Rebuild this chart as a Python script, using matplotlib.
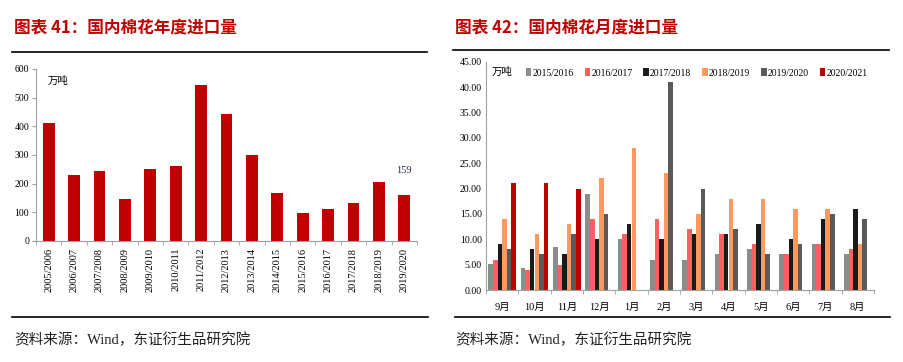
import numpy as np
import matplotlib.pyplot as plt
from matplotlib.lines import Line2D

plt.rcParams['font.family'] = ['Liberation Serif', 'Noto Sans CJK SC']

# ---- data: annual imports (left) ----
seasons = ['2005/2006', '2006/2007', '2007/2008', '2008/2009', '2009/2010',
           '2010/2011', '2011/2012', '2012/2013', '2013/2014', '2014/2015',
           '2015/2016', '2016/2017', '2017/2018', '2018/2019', '2019/2020']
annual_imports = [411, 229, 245, 146, 251, 260, 544, 442, 301, 168, 97, 111, 134, 205, 159]

# ---- data: monthly imports (right) ----
months = ['9月', '10月', '11月', '12月', '1月', '2月', '3月', '4月', '5月', '6月', '7月', '8月']
series_names = ['2015/2016', '2016/2017', '2017/2018', '2018/2019', '2019/2020', '2020/2021']
m_1516 = [5.2, 4.3, 8.5, 19, 10, 6, 6, 7, 8, 7, 9, 7]
m_1617 = [6, 4, 5, 14, 11, 14, 12, 11, 9, 7, 9, 8]
m_1718 = [9, 8, 7, 10, 13, 10, 11, 11, 13, 10, 14, 16]
m_1819 = [14, 11, 13, 22, 28, 23, 15, 18, 18, 16, 16, 9]
m_1920 = [8, 7, 11, 15, np.nan, 41, 20, 12, 7, 9, 15, 14]
m_2021 = [21, 21, 20, np.nan, np.nan, np.nan, np.nan, np.nan, np.nan, np.nan, np.nan, np.nan]
monthly = [m_1516, m_1617, m_1718, m_1819, m_1920, m_2021]
colors = ['#8c8c8c', '#ff5f5f', '#1a1a1a', '#ff9a5c', '#5a5a5a', '#c00000']

W, H = 904, 362
fig = plt.figure(figsize=(W / 100, H / 100), dpi=100)


def box(x0, y0, x1, y1):
    return [x0 / W, 1 - y1 / H, (x1 - x0) / W, (y1 - y0) / H]


def hline(x0, x1, y):
    fig.add_artist(Line2D([x0 / W, x1 / W], [1 - y / H, 1 - y / H],
                          color='black', lw=1.2, transform=fig.transFigure))


red = '#c00000'
spine_col = '#a0a0a0'
mixed = ['Liberation Serif', 'Noto Sans CJK SC']

# titles, rules, sources
fig.text(14 / W, 1 - 28 / H, '图表 41：国内棉花年度进口量', color=red, fontsize=12,
         fontweight='bold', family=['Noto Sans CJK SC'], va='center')
fig.text(455 / W, 1 - 28 / H, '图表 42：国内棉花月度进口量', color=red, fontsize=12,
         fontweight='bold', family=['Noto Sans CJK SC'], va='center')
hline(12, 427, 51.5)
hline(453, 889, 49.5)
hline(12, 428, 317)
hline(455, 890, 317)
fig.text(14 / W, 1 - 340 / H, '资料来源：Wind，东证衍生品研究院', fontsize=10.5,
         family=mixed, va='center', color='#222222')
fig.text(455 / W, 1 - 340 / H, '资料来源：Wind，东证衍生品研究院', fontsize=10.5,
         family=mixed, va='center', color='#222222')

# ---- left chart ----
ax1 = fig.add_axes(box(36, 69, 417, 241))
x = np.arange(len(seasons))
ax1.bar(x, annual_imports, width=0.46, color=red)
ax1.set_xlim(-0.5, len(seasons) - 0.5)
ax1.set_ylim(0, 600)
ax1.set_yticks(range(0, 601, 100))
ax1.set_xticks(x)
ax1.set_xticklabels(seasons, rotation=90, fontsize=7.5)
ax1.set_xticks(np.arange(-0.5, len(seasons)), minor=True)
ax1.tick_params(axis='x', which='major', length=0, pad=5)
ax1.tick_params(axis='x', which='minor', length=3, color=spine_col)
ax1.tick_params(axis='y', labelsize=7, length=3, color=spine_col, pad=2)
for s in ['top', 'right']:
    ax1.spines[s].set_visible(False)
for s in ['left', 'bottom']:
    ax1.spines[s].set_color(spine_col)
ax1.text(0.03, 0.93, '万吨', transform=ax1.transAxes, fontsize=7.5,
         family=['Noto Sans CJK SC'], va='center')
ax1.annotate(str(annual_imports[-1]), (x[-1], annual_imports[-1]),
             xytext=(0, 16), textcoords='offset points', ha='center', fontsize=7.5,
             color='#1f2a5a')

# ---- right chart ----
ax2 = fig.add_axes(box(486, 61.7, 874, 290))
xm = np.arange(len(months))
bw = 0.141
for i, (vals, name, c) in enumerate(zip(monthly, series_names, colors)):
    ax2.bar(xm + (i - 2.5) * bw, vals, width=bw, color=c, label=name)
ax2.set_xlim(-0.5, len(months) - 0.5)
ax2.set_ylim(0, 45)
ax2.set_yticks(np.arange(0, 45.1, 5))
ax2.set_yticklabels([f'{v:.2f}' for v in np.arange(0, 45.1, 5)])
ax2.set_xticks(xm)
ax2.set_xticklabels(months, fontsize=7.5, family=mixed)
ax2.set_xticks(np.arange(-0.5, len(months)), minor=True)
ax2.tick_params(axis='x', which='major', length=0, pad=9)
ax2.tick_params(axis='x', which='minor', length=3, color=spine_col)
ax2.tick_params(axis='y', labelsize=7, length=0, pad=3)
for s in ['top', 'right']:
    ax2.spines[s].set_visible(False)
for s in ['left', 'bottom']:
    ax2.spines[s].set_color(spine_col)
ax2.text(0.015, 0.955, '万吨', transform=ax2.transAxes, fontsize=7.5,
         family=['Noto Sans CJK SC'], va='center')
ax2.legend(loc='upper left', bbox_to_anchor=(0.085, 1.0), ncol=6, frameon=False,
           fontsize=6.9, handlelength=0.55, handleheight=0.9, handletextpad=0.15,
           columnspacing=1.15, borderaxespad=0.3)

fig.savefig('out.png', dpi=100)
